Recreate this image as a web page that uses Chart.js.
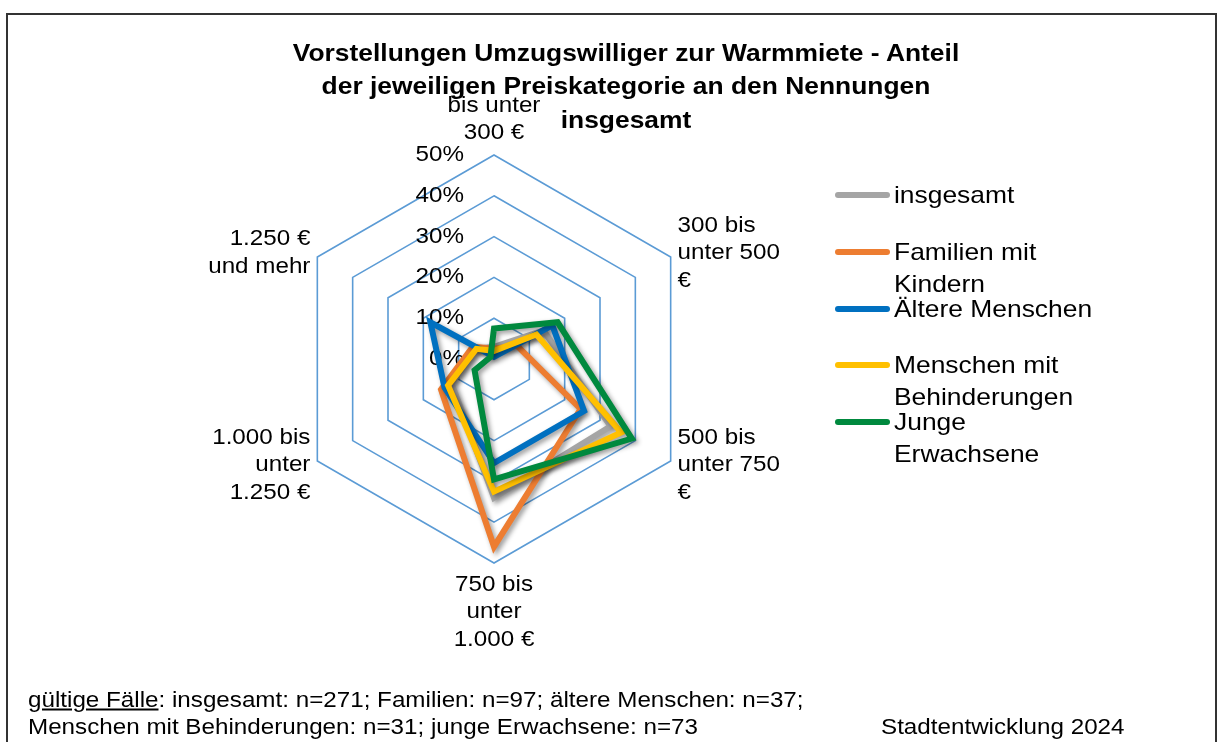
<!DOCTYPE html>
<html lang="de">
<head>
<meta charset="utf-8">
<script src="https://cdn.jsdelivr.net/npm/chart.js"></script>
<style>
  html, body { margin: 0; padding: 0; background: #fff; }
  body { width: 1222px; height: 742px; position: relative; overflow: hidden;
         font-family: "Liberation Sans", Arial, sans-serif; color: #000; }
  #frame { position: absolute; left: 6px; top: 13px; width: 1211px; height: 800px;
           border: 2px solid #333; box-sizing: border-box; }
  #radar { position: absolute; left: 0; top: 0; }
  .txt { position: absolute; white-space: nowrap; font-size: 22px; line-height: 27px; }
  .title { font-weight: bold; font-size: 24px; line-height: 33px; }
  .leg-line { position: absolute; width: 55px; height: 6px; border-radius: 3px; }
  .leg-text { position: absolute; font-size: 24px; line-height: 32px; width: 193px;
              transform-origin: left top; transform: scaleX(1.1); }
</style>
</head>
<body>
<div id="frame"></div>
<canvas id="radar" width="1222" height="742"></canvas>
<div id="texts"></div>
<script>
// price categories (axis labels, already split into lines)
const categories = [
  ['bis unter', '300 €'],
  ['300 bis', 'unter 500', '€'],
  ['500 bis', 'unter 750', '€'],
  ['750 bis', 'unter', '1.000 €'],
  ['1.000 bis', 'unter', '1.250 €'],
  ['1.250 €', 'und mehr']
];
const seriesNames = ['insgesamt', 'Familien mit Kindern', 'Ältere Menschen',
  'Menschen mit Behinderungen', 'Junge Erwachsene'];

// share of mentions in %
const insgesamt     = [3, 14, 33, 34, 12, 5];
const familien      = [2.5, 6.5, 24.5, 46, 15, 6];
const aeltere       = [0.5, 16.5, 25.5, 25.5, 14, 18];
const behinderungen = [2, 12, 36, 32.5, 13, 5];
const junge         = [7.5, 18, 39, 29.5, 5.5, 1];

const tickMax = 50;
const tickStep = 10;

const titleLines = ['Vorstellungen Umzugswilliger zur Warmmiete - Anteil',
  'der jeweiligen Preiskategorie an den Nennungen', 'insgesamt'];
const footLine1 = 'insgesamt: n=271; Familien: n=97; ältere Menschen: n=37;';
const footLine2 = 'Menschen mit Behinderungen: n=31; junge Erwachsene: n=73';
const source = 'Stadtentwicklung 2024';

const colors = ['#A5A5A5', '#ED7D31', '#0070C0', '#FFC000', '#00893E'];
const allSeries = [insgesamt, familien, aeltere, behinderungen, junge];

const STRETCH = 1.1;
const FONT = '"Liberation Sans", Arial, sans-serif';

// html texts
const box = document.getElementById('texts');
function addText(html, x, y, cls, align) {
  const d = document.createElement('div');
  d.className = 'txt ' + (cls || '');
  d.innerHTML = html;
  d.style.left = x + 'px';
  d.style.top = y + 'px';
  if (align === 'center') {
    d.style.transform = 'translate(-50%, -50%) scaleX(' + STRETCH + ')';
  } else {
    d.style.transformOrigin = 'left center';
    d.style.transform = 'translateY(-50%) scaleX(' + STRETCH + ')';
  }
  box.appendChild(d);
}
titleLines.forEach((t, i) => addText(t, 626, 52 + i * 33.3, 'title', 'center'));
addText('<u>gültige Fälle</u>: ' + footLine1, 28, 699, '', 'left');
addText(footLine2, 28, 726, '', 'left');
addText(source, 881, 726, '', 'left');

// legend (html, wraps like the original)
seriesNames.forEach((name, i) => {
  const y = 195 + i * 56.8;
  const line = document.createElement('div');
  line.className = 'leg-line';
  line.style.left = '835px';
  line.style.top = (y - 3) + 'px';
  line.style.background = colors[i];
  box.appendChild(line);
  const t = document.createElement('div');
  t.className = 'leg-text';
  t.textContent = name;
  t.style.left = '894px';
  t.style.top = (y - 16) + 'px';
  box.appendChild(t);
});

function stretchedText(ctx, text, x, y, align) {
  ctx.save();
  ctx.translate(x, y);
  ctx.scale(STRETCH, 1);
  ctx.textAlign = align;
  ctx.fillText(text, 0, 0);
  ctx.restore();
}

// tick labels and category labels drawn under the series lines
const axisText = {
  id: 'axisText',
  beforeDatasetsDraw(chart) {
    const r = chart.scales.r;
    const ctx = chart.ctx;
    ctx.save();
    ctx.fillStyle = '#000';
    ctx.font = '22px ' + FONT;
    ctx.textBaseline = 'middle';
    r.ticks.forEach(t => {
      const y = r.yCenter - r.getDistanceFromCenterForValue(t.value);
      stretchedText(ctx, t.value + '%', r.xCenter - 30, y, 'right');
    });
    const lh = 27.5;
    chart.data.labels.forEach((lines, i) => {
      const p = r.getPointPosition(i, r.drawingArea + 8);
      const deg = Math.round(i * 360 / chart.data.labels.length);
      const h = lines.length * lh;
      let top, align;
      if (deg === 0) { top = p.y - h; align = 'center'; }
      else if (deg === 180) { top = p.y; align = 'center'; }
      else { top = p.y - h / 2; align = deg < 180 ? 'left' : 'right'; }
      lines.forEach((s, k) => stretchedText(ctx, s, p.x, top + lh * (k + 0.5), align));
    });
    ctx.restore();
  }
};

const lineShadow = {
  id: 'lineShadow',
  beforeDatasetDraw(chart) {
    const c = chart.ctx;
    c.save();
    c.shadowColor = 'rgba(0,0,0,0.4)';
    c.shadowBlur = 5;
    c.shadowOffsetX = 2.5;
    c.shadowOffsetY = 2.5;
  },
  afterDatasetDraw(chart) {
    chart.ctx.restore();
  }
};

const datasets = allSeries.map((vals, i) => ({
  label: seriesNames[i],
  data: vals,
  borderColor: colors[i],
  backgroundColor: colors[i],
  borderWidth: 6,
  fill: false,
  pointRadius: 0,
  order: allSeries.length - i
}));

new Chart(document.getElementById('radar'), {
  type: 'radar',
  data: { labels: categories, datasets },
  options: {
    responsive: false,
    animation: false,
    devicePixelRatio: 1,
    layout: { padding: { left: 290, top: 155, right: 524, bottom: 179 } },
    plugins: {
      legend: { display: false },
      tooltip: { enabled: false },
      title: { display: false }
    },
    elements: { line: { tension: 0, borderJoinStyle: 'miter' } },
    scales: {
      r: {
        min: 0,
        max: tickMax,
        ticks: { stepSize: tickStep, display: false },
        grid: { color: '#5B9BD5', lineWidth: 1.6 },
        angleLines: { display: false },
        pointLabels: { display: false }
      }
    }
  },
  plugins: [axisText, lineShadow]
});
</script>
</body>
</html>
